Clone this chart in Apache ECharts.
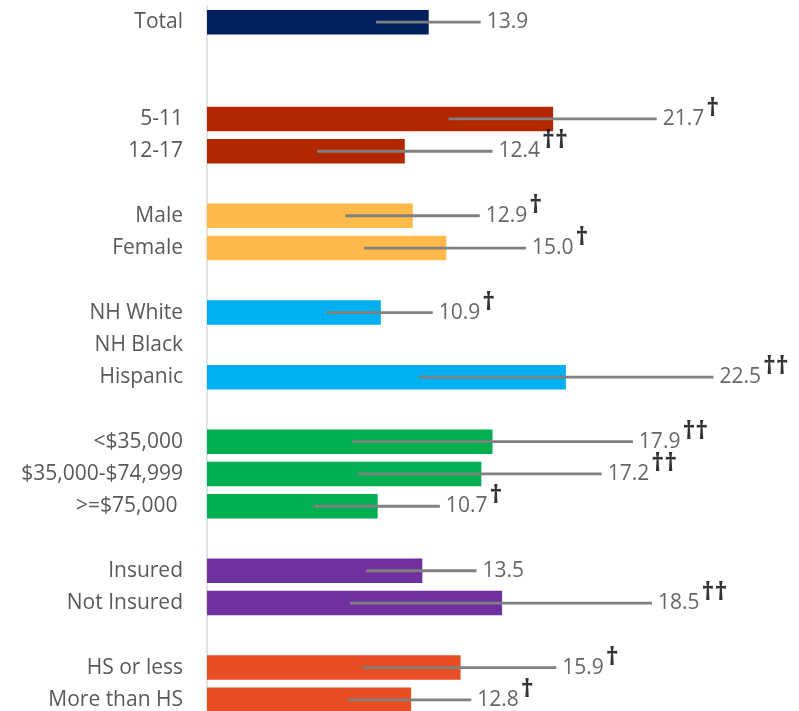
<!DOCTYPE html>
<html>
<head>
<meta charset="utf-8">
<script src="https://cdn.jsdelivr.net/npm/echarts@6/dist/echarts.min.js"></script>
<style>
html,body{margin:0;padding:0;background:#fff;}
#chart{width:799px;height:711px;}
</style>
</head>
<body>
<div id="chart"></div>
<script>
// Categories (blank spacer rows kept as distinct whitespace strings)
const categories = ['Total', ' ', '  ', '5-11', '12-17', '   ', 'Male', 'Female', '    ',
  'NH White', 'NH Black', 'Hispanic', '     ', '<$35,000', '$35,000-$74,999', '>=$75,000 ', '      ',
  'Insured', 'Not Insured', '       ', 'HS or less', 'More than HS'];
const values = [13.9, null, null, 21.7, 12.4, null, 12.9, 15.0, null,
  10.9, null, 22.5, null, 17.9, 17.2, 10.7, null,
  13.5, 18.5, null, 15.9, 12.8];
const lowerCI = [10.6, null, null, 15.15, 6.9, null, 8.67, 9.84, null,
  7.5, null, 13.27, null, 9.13, 9.5, 6.67, null,
  9.97, 8.97, null, 9.76, 8.84];
const upperCI = [17.16, null, null, 28.2, 17.9, null, 17.1, 20.0, null,
  14.15, null, 31.75, null, 26.7, 24.75, 14.6, null,
  16.9, 27.9, null, 21.9, 16.57];
const daggers = ['', '', '', '†', '††', '', '†', '†', '',
  '†', '', '††', '', '††', '††', '†', '',
  '', '††', '', '†', '†'];

// Styles (colours per row group)
const groupColors = ['#002060', null, null, '#B22600', '#B22600', null, '#FFBA4A', '#FFBA4A', null,
  '#00B0F0', '#00B0F0', '#00B0F0', null, '#00B050', '#00B050', '#00B050', null,
  '#7030A0', '#7030A0', null, '#E84E23', '#E84E23'];

const FONT = '"Open Sans", "Noto Sans", sans-serif';

const barData = values.map((v, i) => ({ value: v, itemStyle: { color: groupColors[i] || '#fff' } }));
const errData = categories.map((c, i) => (lowerCI[i] == null ? [null, null, i] : [lowerCI[i], upperCI[i], i]));
const labelData = categories.map((c, i) => (values[i] == null ? [null, i] : [upperCI[i], i]));

const chart = echarts.init(document.getElementById('chart'), null, { renderer: 'canvas' });
chart.setOption({
  animation: false,
  backgroundColor: '#ffffff',
  grid: { left: 207, top: 6, width: 36 * 15.95, height: 710, containLabel: false, outerBoundsMode: 'none' },
  xAxis: {
    type: 'value', min: 0, max: 36,
    show: false, splitLine: { show: false }
  },
  yAxis: {
    type: 'category', data: categories, inverse: true,
    axisLine: { show: true, lineStyle: { color: '#d9d9d9', width: 1.5 } },
    axisTick: { show: false },
    splitLine: { show: false },
    axisLabel: { color: '#595959', fontSize: 21, fontFamily: FONT, margin: 24, interval: 0 }
  },
  series: [
    {
      type: 'bar', data: barData, barWidth: 24.5, z: 2
    },
    {
      type: 'custom', z: 3,
      data: errData,
      encode: { x: [0, 1], y: 2 },
      renderItem: function (params, api) {
        const lo = api.value(0), hi = api.value(1);
        if (lo == null || isNaN(lo)) return null;
        const p1 = api.coord([lo, api.value(2)]);
        const p2 = api.coord([hi, api.value(2)]);
        return {
          type: 'line',
          shape: { x1: p1[0], y1: p1[1], x2: p2[0], y2: p2[1] },
          style: { stroke: '#808080', lineWidth: 2.8 }
        };
      }
    },
    {
      type: 'scatter', z: 4, symbolSize: 0,
      data: labelData,
      label: {
        show: true, position: 'right', distance: 6,
        formatter: function (p) {
          const i = p.dataIndex;
          const d = daggers[i];
          return '{v|' + values[i].toFixed(1) + '}' + (d ? '{d|' + d + '}' : '');
        },
        rich: {
          v: { color: '#404040', fontSize: 21, fontFamily: FONT, lineHeight: 26 },
          d: { color: '#000000', fontSize: 25, fontWeight: 'bold', fontFamily: FONT, lineHeight: 28, padding: [0, 0, 20, 2] }
        }
      }
    }
  ]
});
</script>
</body>
</html>
